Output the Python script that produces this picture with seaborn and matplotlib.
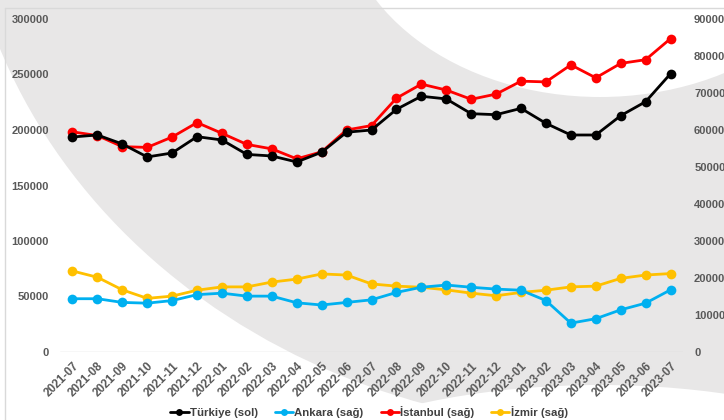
import numpy as np
import pandas as pd
import seaborn as sns
import matplotlib.pyplot as plt
from matplotlib.patches import Ellipse
from matplotlib.lines import Line2D

months = ["2021-07", "2021-08", "2021-09", "2021-10", "2021-11", "2021-12",
          "2022-01", "2022-02", "2022-03", "2022-04", "2022-05", "2022-06",
          "2022-07", "2022-08", "2022-09", "2022-10", "2022-11", "2022-12",
          "2023-01", "2023-02", "2023-03", "2023-04", "2023-05", "2023-06",
          "2023-07"]

turkiye = [193700, 195500, 187400, 175700, 179300, 194000, 191000, 178000,
           176600, 171200, 180000, 198000, 200000, 218600, 230400, 228000,
           214700, 213800, 219500, 206000, 195500, 195500, 212900, 225500,
           250700]

istanbul = [59500, 58500, 55500, 55300, 58100, 62000, 59100, 56100, 54900,
            52200, 54100, 60000, 61200, 68600, 72400, 70800, 68300, 69700,
            73200, 73000, 77600, 74100, 78000, 79000, 84700]

ankara = [14400, 14400, 13400, 13200, 13900, 15500, 15900, 15100, 15100,
          13300, 12700, 13400, 14100, 16100, 17500, 18100, 17500, 17000,
          16700, 13900, 7800, 9000, 11400, 13200, 16800]

izmir = [21900, 20200, 16800, 14500, 15100, 16700, 17600, 17600, 18900,
         19700, 21100, 20800, 18400, 17800, 17500, 16800, 15900, 15200,
         16100, 16700, 17600, 17800, 19900, 20800, 21200]

left_ticks = [0, 50000, 100000, 150000, 200000, 250000, 300000]
right_ticks = [0, 10000, 20000, 30000, 40000, 50000, 60000, 70000, 80000, 90000]

labels = ["Türkiye (sol)", "Ankara (sağ)", "İstanbul (sağ)", "İzmir (sağ)"]
colors = ["#000000", "#00b0f0", "#ff0000", "#ffc000"]

sns.set_theme(style="white")
plt.rcParams["font.family"] = ["Liberation Sans", "DejaVu Sans"]

W, H = 724, 420
fig = plt.figure(figsize=(W / 100, H / 100), dpi=100)
fig.patch.set_facecolor("white")

# decorative background: grey crescent behind the plot
bg = fig.add_axes([0, 0, 1, 1], zorder=-10)
bg.set_xlim(0, W)
bg.set_ylim(H, 0)
bg.axis("off")
grey = "#e8e7e7"
bg.add_patch(Ellipse((620, -150), 2 * 660, 2 * 580, color=grey, lw=0))
bg.add_patch(Ellipse((600, -100), 2 * 260, 2 * 197, color="white", lw=0))
bg.add_patch(Ellipse((600, 560), 2 * 400, 2 * 175, color="white", lw=0))
bg.plot([5, W], [8, 8], color="#d9d9d9", lw=1)
bg.plot([5, 5], [8, H], color="#d9d9d9", lw=1)

df = pd.DataFrame({
    "x": np.arange(len(months)),
    "turkiye": turkiye,
    "ankara": ankara,
    "istanbul": istanbul,
    "izmir": izmir,
})

ax = fig.add_axes([60 / W, 1 - 352 / H, (683 - 60) / W, (352 - 19) / H])
ax.patch.set_alpha(0)
ax2 = ax.twinx()
ax2.patch.set_alpha(0)

lw, ms = 2.0, 7
sns.lineplot(data=df, x="x", y="ankara", ax=ax2, color=colors[1], marker="o",
             markersize=ms, markeredgewidth=0, linewidth=lw, zorder=3)
sns.lineplot(data=df, x="x", y="izmir", ax=ax2, color=colors[3], marker="o",
             markersize=ms, markeredgewidth=0, linewidth=lw, zorder=2)
sns.lineplot(data=df, x="x", y="istanbul", ax=ax2, color=colors[2], marker="o",
             markersize=ms, markeredgewidth=0, linewidth=lw, zorder=4)
sns.lineplot(data=df, x="x", y="turkiye", ax=ax, color=colors[0], marker="o",
             markersize=ms, markeredgewidth=0, linewidth=lw)
ax.set_zorder(ax2.get_zorder() + 1)

tick_color = "#595959"
for a in (ax, ax2):
    a.set_xlim(-0.5, len(months) - 0.5)
    for s in a.spines.values():
        s.set_visible(False)
    a.set_xlabel("")
    a.set_ylabel("")
    a.tick_params(length=0)
    a.grid(False)

ax.set_ylim(0, 300000)
ax2.set_ylim(0, 90000)
ax.set_yticks(left_ticks)
ax.set_yticklabels([str(v) for v in left_ticks], fontsize=8, fontweight="bold",
                   color=tick_color)
ax2.set_yticks(right_ticks)
ax2.set_yticklabels([str(v) for v in right_ticks], fontsize=8,
                    fontweight="bold", color=tick_color)
ax.tick_params(axis="y", pad=8)
ax2.tick_params(axis="y", pad=8)

ax.set_xticks(df["x"])
ax.set_xticklabels(months, rotation=45, ha="right", rotation_mode="anchor",
                   fontsize=8.5, fontweight="bold", color=tick_color)
ax.tick_params(axis="x", pad=6)
ax.axhline(0, color="#d9d9d9", lw=1, zorder=0)

handles = [Line2D([0], [0], color=c, lw=lw, marker="o", markersize=5,
                  markeredgewidth=0) for c in colors]
fig.legend(handles, labels, loc="center", bbox_to_anchor=(369 / W, 1 - 412 / H),
           ncol=4, frameon=False, handlelength=1.6, handletextpad=0.1,
           columnspacing=1.5, prop={"size": 8.2, "weight": "bold"},
           labelcolor="#404040")

fig.savefig("out.png", dpi=100)
